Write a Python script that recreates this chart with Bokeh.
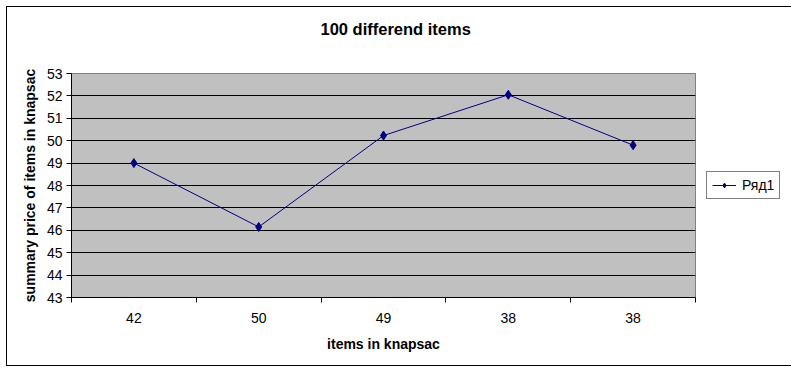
from bokeh.plotting import figure
from bokeh.models import FixedTicker, Range1d, Legend, LegendItem, InlineStyleSheet, Title
from bokeh.embed import file_html
from bokeh.resources import INLINE

title_text = "100 differend items"
x_title = "items in knapsac"
y_title = "summary price of items in knapsac"
categories = ["42", "50", "49", "38", "38"]
values = [49.0, 46.15, 50.23, 52.05, 49.8]
series_name = "Ряд1"
y_ticks = list(range(43, 54))

FONT = "Liberation Sans"
positions = list(range(1, len(categories) + 1))

p = figure(frame_width=624, frame_height=224, output_backend="svg", toolbar_location=None,
           x_range=Range1d(0.5, len(categories) + 0.5), y_range=Range1d(43, 53),
           min_border_left=71, min_border_right=96, min_border_top=73, min_border_bottom=75,
           title=None, title_location=None)
border_css = InlineStyleSheet(css="""
:host { position: relative; }
:host::after {
  content: "";
  position: absolute;
  left: 6px; top: 6px; right: 6px; bottom: 6px;
  border: 1px solid black;
  pointer-events: none;
  z-index: 1000;
}
""")
p.stylesheets = [border_css]
p.background_fill_color = "#C0C0C0"
p.border_fill_color = "white"
p.outline_line_color = "#808080"
p.outline_line_width = 1

# spacer between the frame and the title, then the title itself
p.add_layout(Title(text=" ", text_font=FONT, text_font_size="14px", standoff=18), "above")
p.add_layout(Title(text=title_text, align="left", offset=249, standoff=0,
                   text_font=FONT, text_font_size="16.5px", text_font_style="bold",
                   text_color="black"), "above")

# axes
p.xaxis.ticker = FixedTicker(ticks=positions, minor_ticks=[i + 0.5 for i in range(len(categories) + 1)])
p.xaxis.major_label_overrides = {pos: c for pos, c in zip(positions, categories)}
p.xaxis.major_tick_out = 0
p.xaxis.major_tick_in = 0
p.xaxis.minor_tick_out = 5
p.xaxis.minor_tick_in = 0
p.xaxis.major_label_standoff = 10
p.xaxis.axis_label = x_title
p.xaxis.axis_label_standoff = 10

p.yaxis.ticker = FixedTicker(ticks=y_ticks)
p.yaxis.major_tick_out = 5
p.yaxis.major_tick_in = 0
p.yaxis.minor_tick_out = 0
p.yaxis.minor_tick_in = 0
p.yaxis.major_label_standoff = 4
p.yaxis.axis_label = y_title
p.yaxis.axis_label_standoff = 6

for ax in (p.xaxis, p.yaxis):
    ax.axis_line_color = "black"
    ax.major_tick_line_color = "black"
    ax.minor_tick_line_color = "black"
    ax.major_label_text_font = FONT
    ax.major_label_text_font_size = "14px"
    ax.major_label_text_color = "black"
    ax.axis_label_text_font = FONT
    ax.axis_label_text_font_size = "14px"
    ax.axis_label_text_font_style = "bold"
    ax.axis_label_text_color = "black"

p.xgrid.grid_line_color = None
p.ygrid.ticker = FixedTicker(ticks=y_ticks[1:-1])
p.ygrid.grid_line_color = "black"
p.ygrid.grid_line_width = 1

ln = p.line(positions, values, line_color="#000080", line_width=1)
mk = p.scatter(positions, values, marker="diamond", size=9, fill_color="#000080", line_color="#000080")

legend = Legend(items=[LegendItem(label=series_name, renderers=[ln, mk])],
                location="center_left", orientation="vertical")
legend.margin = 11
legend.padding = 5
legend.spacing = 0
legend.glyph_width = 24
legend.glyph_height = 12
legend.label_standoff = 6
legend.label_text_font = FONT
legend.label_text_font_size = "14px"
legend.label_text_color = "black"
legend.border_line_color = "black"
legend.border_line_width = 1
legend.background_fill_color = "white"
legend.background_fill_alpha = 1
p.add_layout(legend, "right")

open("out.html", "w").write(file_html(p, INLINE))
